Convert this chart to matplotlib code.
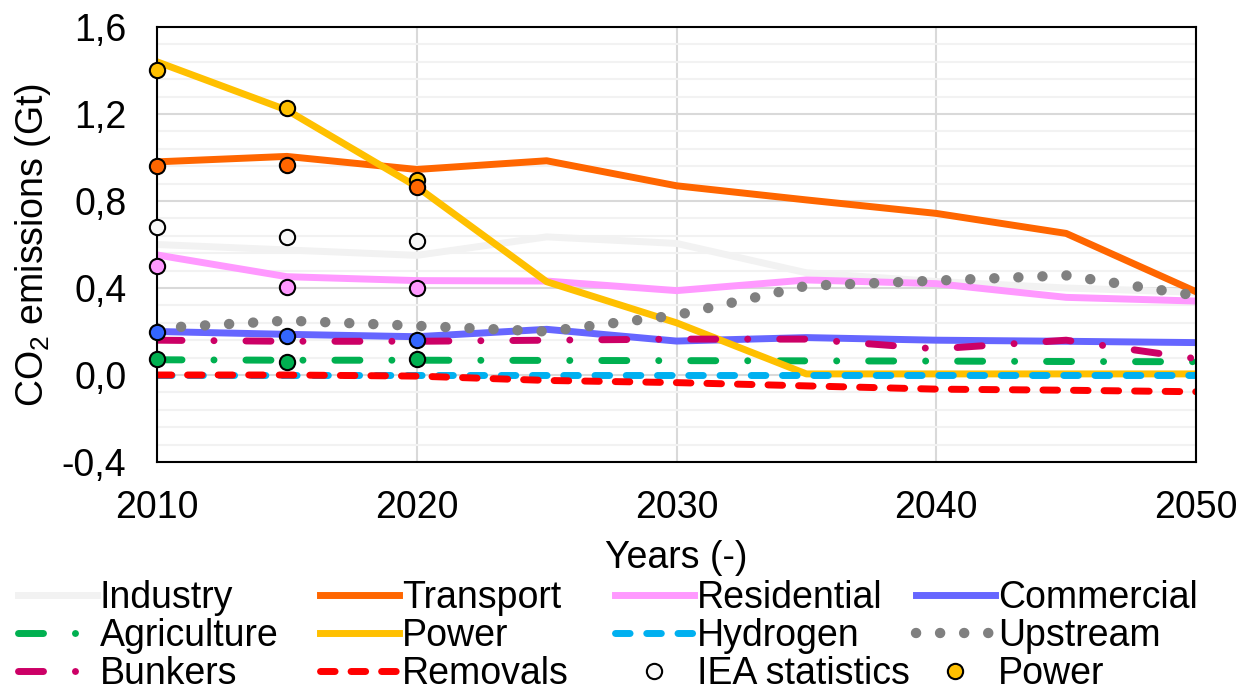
import numpy as np
import matplotlib.pyplot as plt

plt.rcParams['font.family'] = ['Liberation Sans', 'DejaVu Sans']
plt.rcParams['mathtext.fontset'] = 'custom'
plt.rcParams['mathtext.rm'] = 'Liberation Sans'
plt.rcParams['mathtext.it'] = 'Liberation Sans:italic'

# Scenario years and sector emissions (Gt CO2)
years = [2010, 2015, 2020, 2025, 2030, 2035, 2040, 2045, 2050]
industry    = [0.60, 0.575, 0.55, 0.635, 0.605, 0.47, 0.43, 0.40, 0.38]
transport   = [0.98, 1.005, 0.945, 0.985, 0.87, 0.805, 0.743, 0.651, 0.383]
residential = [0.552, 0.452, 0.434, 0.432, 0.388, 0.437, 0.42, 0.357, 0.34]
commercial  = [0.20, 0.187, 0.176, 0.21, 0.156, 0.172, 0.16, 0.155, 0.149]
agriculture = [0.07, 0.068, 0.068, 0.067, 0.066, 0.065, 0.064, 0.062, 0.061]
power       = [1.44, 1.218, 0.866, 0.429, 0.24, 0.005, 0.005, 0.005, 0.005]
hydrogen    = [0.0, 0.0, 0.0, 0.0, 0.0, 0.0, 0.0, 0.0, 0.0]
upstream    = [0.215, 0.25, 0.226, 0.20, 0.275, 0.41, 0.434, 0.458, 0.365]
bunkers     = [0.16, 0.155, 0.155, 0.16, 0.165, 0.165, 0.12, 0.16, 0.075]
removals    = [0.0, 0.0, -0.005, -0.025, -0.035, -0.05, -0.065, -0.07, -0.077]

# IEA statistics (historical points)
stat_years = [2010, 2015, 2020]
stat_industry    = [0.682, 0.633, 0.616]
stat_power       = [1.402, 1.229, 0.897]
stat_transport   = [0.961, 0.966, 0.866]
stat_residential = [0.503, 0.406, 0.402]
stat_commercial  = [0.199, 0.179, 0.161]
stat_agriculture = [0.072, 0.058, 0.072]

y_ticks = [-0.4, 0.0, 0.4, 0.8, 1.2, 1.6]
x_ticks = [2010, 2020, 2030, 2040, 2050]

fs = 27

fig = plt.figure(figsize=(12.41, 6.92), dpi=100)
ax = fig.add_axes([157 / 1241, 1 - 462 / 692, (1196 - 157) / 1241, (462 - 27) / 692])

lw = 5
h_ind, = ax.plot(years, industry, color='#f2f2f2', lw=lw, solid_joinstyle='round', label='Industry')
h_tra, = ax.plot(years, transport, color='#ff6600', lw=lw, solid_joinstyle='round', label='Transport')
h_res, = ax.plot(years, residential, color='#ff99ff', lw=lw, solid_joinstyle='round', label='Residential')
h_com, = ax.plot(years, commercial, color='#6666ff', lw=lw, solid_joinstyle='round', label='Commercial')
h_agr, = ax.plot(years, agriculture, color='#00b050', lw=lw, dash_capstyle='round',
                 linestyle=(0, (3.6, 4.6, 0.01, 4.6)), label='Agriculture')
h_pow, = ax.plot(years, power, color='#ffc000', lw=lw, solid_joinstyle='round', label='Power')
h_hyd, = ax.plot(years, hydrogen, color='#00b0f0', lw=lw, dash_capstyle='round',
                 linestyle=(0, (2.1, 2.4)), label='Hydrogen')
h_ups, = ax.plot(years, upstream, color='#808080', lw=7.5, dash_capstyle='round',
                 linestyle=(0, (0.01, 2.3)), label='Upstream')
h_bun, = ax.plot(years, bunkers, color='#cc0066', lw=lw, dash_capstyle='round',
                 linestyle=(0, (3.6, 4.6, 0.01, 4.6)), label='Bunkers')
h_rem, = ax.plot(years, removals, color='#ff0000', lw=lw, dash_capstyle='round',
                 linestyle=(0, (2.1, 2.3)), label='Removals')

mk = dict(linestyle='none', marker='o', markersize=11, markeredgecolor='black',
          markeredgewidth=1.5, zorder=5, clip_on=False)
h_iea, = ax.plot(stat_years, stat_industry, markerfacecolor='#f8f8f8', label='IEA statistics', **mk)
h_pst, = ax.plot(stat_years, stat_power, markerfacecolor='#ffc000', label='Power', **mk)
ax.plot(stat_years, stat_transport, markerfacecolor='#ff6600', **mk)
ax.plot(stat_years, stat_residential, markerfacecolor='#ff99ff', **mk)
ax.plot(stat_years, stat_commercial, markerfacecolor='#3366ff', **mk)
ax.plot(stat_years, stat_agriculture, markerfacecolor='#00b050', **mk)

ax.set_xlim(2010, 2050)
ax.set_ylim(-0.4, 1.6)
ax.set_xticks(x_ticks)
ax.set_xticklabels([str(x) for x in x_ticks])
ax.set_yticks(y_ticks)
ax.set_yticklabels([('%.1f' % v).replace('.', ',') for v in y_ticks])
ax.set_yticks(np.arange(-0.4, 1.6001, 0.08), minor=True)
ax.tick_params(which='both', length=0, labelsize=fs)
ax.tick_params(axis='x', pad=20)
ax.tick_params(axis='y', pad=22)

ax.grid(axis='x', which='major', color='#d9d9d9', lw=1.5, zorder=0)
ax.grid(axis='y', which='major', color='#d9d9d9', lw=1.5, zorder=0)
ax.grid(axis='y', which='minor', color='#f2f2f2', lw=1.5, zorder=0)
ax.set_axisbelow(True)
for s in ax.spines.values():
    s.set_linewidth(1.5)
    s.set_color('black')

ax.set_xlabel('Years (-)', fontsize=fs, labelpad=10)
ax.set_ylabel('CO$_2$ emissions (Gt)', fontsize=fs, labelpad=6)

# Excel-style legend: four equally spaced columns
columns = [[h_ind, h_agr, h_bun], [h_tra, h_pow, h_rem],
           [h_res, h_hyd, h_iea], [h_com, h_ups, h_pst]]
col_x = [18, 320, 615, 916]
for hs, x in zip(columns, col_x):
    leg = fig.legend(handles=hs, labels=[h.get_label() for h in hs], ncol=1,
                     loc='upper left', bbox_to_anchor=(x / 1241, 1 - 580 / 692),
                     frameon=False, fontsize=fs, handlelength=2.1, handletextpad=0.08,
                     labelspacing=0.06, borderpad=0, borderaxespad=0)

fig.savefig('out.png', dpi=100)
